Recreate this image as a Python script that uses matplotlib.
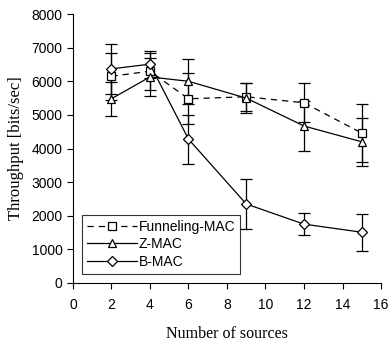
import matplotlib
matplotlib.use('Agg')
import matplotlib.pyplot as plt

# number of sources
sources = [2, 4, 6, 9, 12, 15]

funnel = [6150, 6300, 5480, 5540, 5360, 4460]
funnel_err = [700, 550, 760, 420, 580, 870]

zmac = [5480, 6130, 6000, 5500, 4670, 4200]
zmac_err = [500, 560, 670, 450, 740, 720]

bmac = [6370, 6510, 4280, 2350, 1750, 1510]
bmac_err = [750, 400, 730, 750, 330, 550]

fig = plt.figure(figsize=(3.88, 3.43), dpi=100)
ax = fig.add_axes([0.188, 0.175, 0.794, 0.784])

common = dict(color='black', lw=0.9, elinewidth=0.9, capsize=4, capthick=0.9,
              markersize=5.5, markerfacecolor='white', markeredgecolor='black',
              markeredgewidth=0.9)
e1 = ax.errorbar(sources, funnel, yerr=funnel_err, marker='s', ls=(0, (5, 4)),
                 label='Funneling-MAC', **common)
e2 = ax.errorbar(sources, zmac, yerr=zmac_err, marker='^', ls='-',
                 label='Z-MAC', **common)
e3 = ax.errorbar(sources, bmac, yerr=bmac_err, marker='D', ls='-',
                 label='B-MAC', **dict(common, markersize=5))

ax.set_xlim(0, 16)
ax.set_ylim(0, 8000)
ax.set_xticks(range(0, 17, 2))
ax.set_yticks(range(0, 8001, 1000))
for s in ['top', 'right']:
    ax.spines[s].set_visible(False)
for s in ['left', 'bottom']:
    ax.spines[s].set_linewidth(0.8)
ax.tick_params(direction='out', length=4, width=0.8, labelsize=10)
ax.tick_params(axis='x', pad=7)
for lab in ax.get_xticklabels() + ax.get_yticklabels():
    lab.set_fontfamily('Liberation Sans')

ax.set_xlabel('Number of sources', fontfamily='Liberation Serif', fontsize=11.5, labelpad=10)
ax.set_ylabel('Throughput [bits/sec]', fontfamily='Liberation Serif', fontsize=12, labelpad=5)

leg = ax.legend([e1[0], e2[0], e3[0]], ['Funneling-MAC', 'Z-MAC', 'B-MAC'],
                loc='lower left', bbox_to_anchor=(0.03, 0.035), fancybox=False,
                framealpha=1, edgecolor='#333333', handlelength=3.6,
                prop={'family': 'Liberation Sans', 'size': 10},
                borderpad=0.35, labelspacing=0.25, handletextpad=0.1,
                borderaxespad=0)
leg.get_frame().set_linewidth(0.8)

fig.savefig('out.png', dpi=100)
